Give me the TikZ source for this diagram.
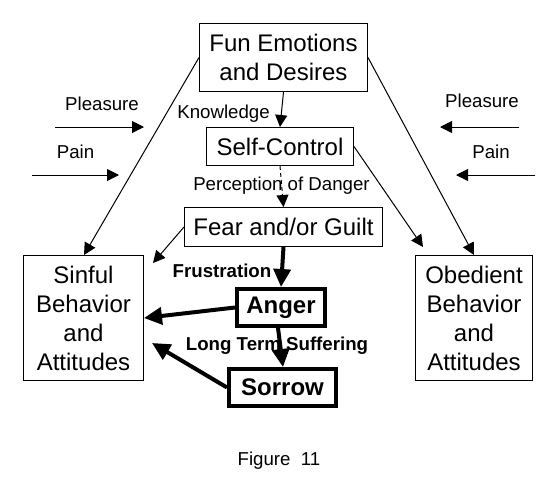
\documentclass[tikz,border=0pt]{standalone}
\usepackage{fontspec}
\setmainfont{Liberation Sans}
\usetikzlibrary{arrows.meta}
\begin{document}
\begin{tikzpicture}[x=1pt,y=-1pt,
  box/.style={draw=black, line width=1pt, inner sep=0pt, align=center,
    font=\fontsize{24}{29}\selectfont},
  boldbox/.style={draw=black, line width=4pt, inner sep=0pt, align=center,
    font=\fontsize{24}{29}\selectfont\bfseries},
  lbl/.style={inner sep=0pt, anchor=base, font=\fontsize{18.67}{22}\selectfont},
  blbl/.style={inner sep=0pt, anchor=base, font=\fontsize{18.67}{22}\selectfont\bfseries},
  thin/.style={line width=1pt, -{Triangle[length=12pt,width=12pt]}},
  thick/.style={line width=4pt, -{Triangle[length=18pt,width=17pt]}},
]
\useasboundingbox[fill=white] (0,0) rectangle (556,488);

% boxes
\node[box, minimum width=168pt, minimum height=68pt] (fun) at (283.5,57.5) {Fun Emotions\\and Desires};
\node[box, minimum width=147pt, minimum height=38pt] (self) at (280,146.5) {Self-Control};
\node[box, minimum width=198pt, minimum height=39pt] (fear) at (283.5,227) {Fear and/or Guilt};
\node[box, minimum width=120pt, minimum height=125pt] (sinful) at (83.5,318) {Sinful\\Behavior\\and\\Attitudes};
\node[box, minimum width=117pt, minimum height=125pt] (obed) at (474,318) {Obedient\\Behavior\\and\\Attitudes};
\node[boldbox, minimum width=88pt, minimum height=37pt] (anger) at (281,307.5) {Anger};
\node[boldbox, minimum width=107pt, minimum height=37pt] (sorrow) at (282.5,387.5) {Sorrow};

% labels
\node[lbl] (plL) at (102,110) {Pleasure};
\node[lbl] (paL) at (75.5,158) {Pain};
\node[lbl] (plR) at (482,107) {Pleasure};
\node[lbl] (paR) at (491,158) {Pain};
\node[lbl] (know) at (223.5,118) {Knowledge};
\node[lbl] (perc) at (281.5,190) {Perception of Danger};
\node[blbl] (frus) at (222,277) {Frustration};
\node[blbl] (lts) at (277,350) {Long Term Suffering};
\node[lbl] (fig) at (279,465) {Figure\ \ 11};

% free-end coordinates
\coordinate (plLa) at (55,127);
\coordinate (plLb) at (144,127);
\coordinate (paLa) at (32,175);
\coordinate (paLb) at (119,175);
\coordinate (plRa) at (519,127);
\coordinate (plRb) at (440,127);
\coordinate (paRa) at (535,175);
\coordinate (paRb) at (456,175);
\coordinate (obtip) at (423,247);
\coordinate (sintipA) at (153,263);
\coordinate (sintipB) at (152,343);

% side arrows
\draw[thin] (plLa) -- (plLb);
\draw[thin] (paLa) -- (paLb);
\draw[thin] (plRa) -- (plRb);
\draw[thin] (paRa) -- (paRb);

% thin connectors
\draw[thin] (fun.south) -- (self.north);
\draw[thin, dashed, dash pattern=on 4pt off 3pt] (self.south) -- (fear.north);
\draw[thin] (fun.west) -- ([xshift=0.5pt]sinful.north);
\draw[thin] (fun.east) -- (obed.north);
\draw[thin] (self.east) -- (obtip);
\draw[thin] (fear.west) -- (sintipA);

% thick connectors
\draw[thick] (fear.south) -- (anger.north);
\draw[thick] (anger.west) -- (sinful.east);
\draw[thick] ([xshift=-3pt]anger.south) -- ([xshift=0.5pt]sorrow.north);
\draw[thick] (sorrow.west) -- (sintipB);
\end{tikzpicture}
\end{document}
